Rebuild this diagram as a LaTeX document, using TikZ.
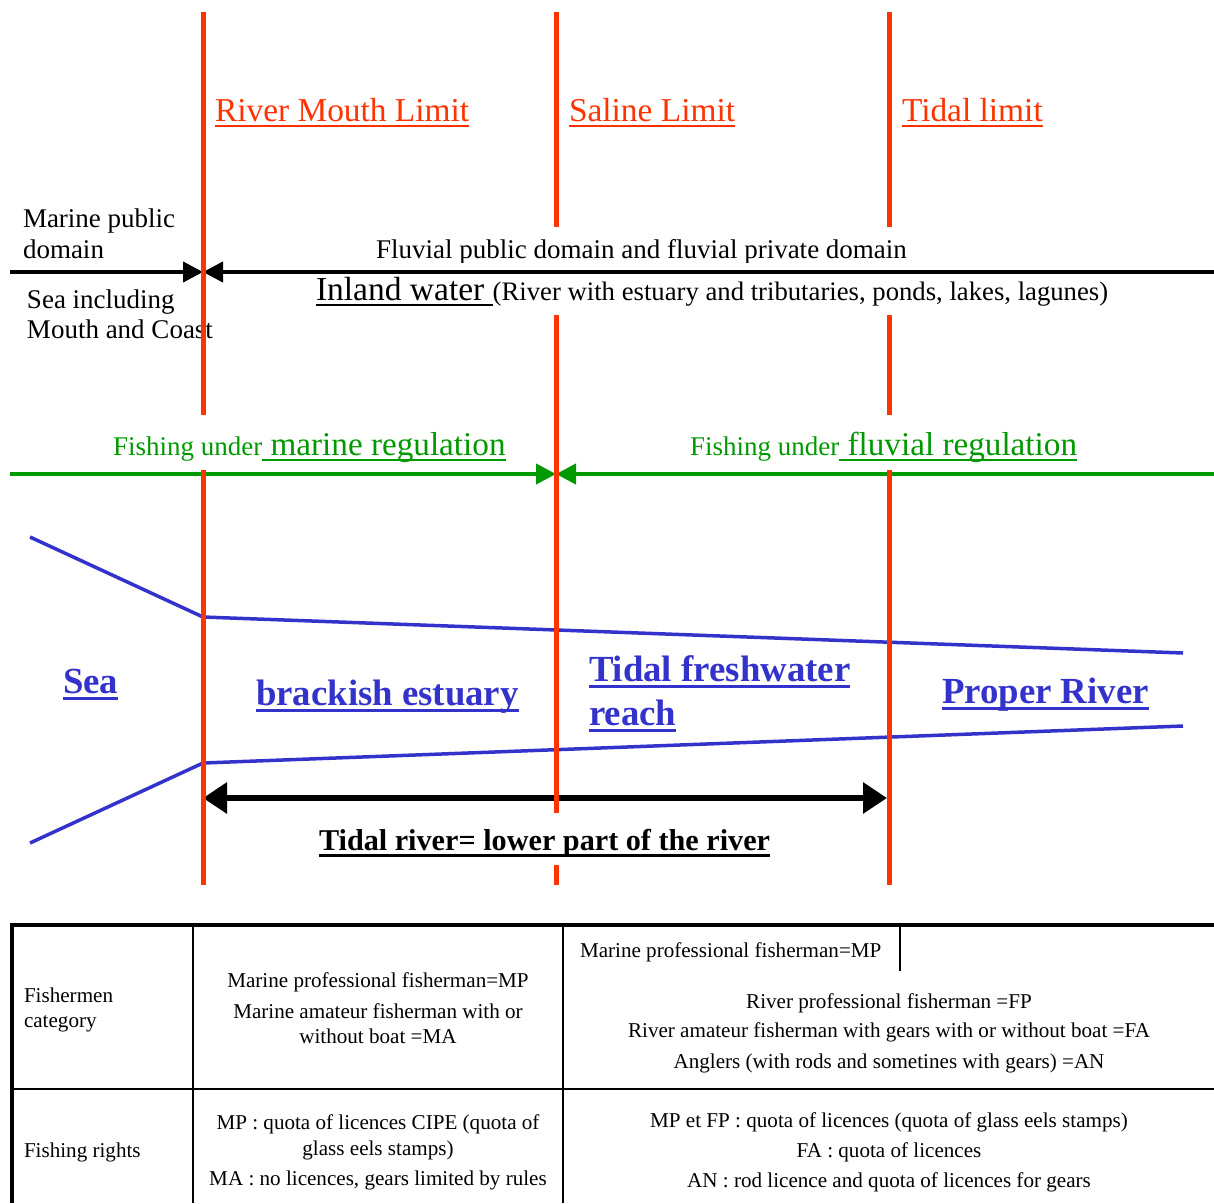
\documentclass[tikz,border=0pt]{standalone}
\usepackage{fontspec}
\setmainfont{Liberation Serif}
\usetikzlibrary{arrows.meta}
\definecolor{redl}{RGB}{255,51,0}
\definecolor{grn}{RGB}{0,153,0}
\definecolor{blu}{RGB}{51,51,204}
\newcommand\fsz[1]{\fontsize{#1}{#1}\selectfont}
\newsavebox\ulbox
\newcommand\ulin[3]{\sbox\ulbox{#3}\rlap{\rule[-#2]{\wd\ulbox}{#1}}\usebox\ulbox}
\begin{document}
\begin{tikzpicture}[x=1pt,y=-1pt,
  every node/.style={inner sep=0pt,outer sep=0pt},
  txt/.style={anchor=base west},
  ctr/.style={anchor=base},
  limitline/.style={draw=redl,line width=5pt},
  domline/.style={draw=black,line width=4pt},
  regline/.style={draw=grn,line width=4pt},
  riverline/.style={draw=blu,line width=3.5pt},
  tip/.style={-{Triangle[length=20pt,width=20pt]}},
  redlab/.style={txt,text=redl,font=\fsz{33.4}},
  bluelab/.style={txt,text=blu,font=\fsz{36.8}\bfseries},
  tabtxt/.style={font=\fsz{21.1}},
  tabthin/.style={draw=black,line width=1.5pt}]
\useasboundingbox (0,0) rectangle (1214,1203);

% river banks
\coordinate (ub0) at (30,537); \coordinate (ub1) at (203,617); \coordinate (ub2) at (1183,653);
\coordinate (lb0) at (30,843); \coordinate (lb1) at (203,763); \coordinate (lb2) at (1183,726);
\draw[riverline] (ub0) -- (ub1) -- (ub2);
\draw[riverline] (lb0) -- (lb1) -- (lb2);

% domain arrows
\coordinate (dL) at (10,272); \coordinate (dM) at (203,272); \coordinate (dR) at (1214,272);
\draw[domline,tip] (dL) -- (dM);
\draw[domline,tip] (dR) -- (dM);

% regulation arrows
\coordinate (gL) at (10,474); \coordinate (gM) at (556,474); \coordinate (gR) at (1214,474);
\draw[regline,tip] (gL) -- (gM);
\draw[regline,tip] (gR) -- (gM);

% tidal river arrow
\coordinate (tA) at (203,798); \coordinate (tB) at (887,798);
\draw[line width=6pt,{Triangle[length=24pt,width=30pt]}-{Triangle[length=24pt,width=30pt]}] (tA) -- (tB);

% limit labels
\node[redlab] (rml) at (215,121) {\ulin{2pt}{6pt}{River Mouth Limit}};
\node[redlab] (sal) at (569,121) {\ulin{2pt}{6pt}{Saline Limit}};
\node[redlab] (tdl) at (902,121) {\ulin{2pt}{6pt}{Tidal limit}};

% domain labels
\node[txt,font=\fsz{27}] (mpd1) at (23,227) {Marine public};
\node[txt,font=\fsz{27}] (mpd2) at (23,258) {domain};
\node[txt,font=\fsz{27}] (sea1) at (27,308) {Sea including};
\node[txt,font=\fsz{27}] (sea2) at (27,338) {Mouth and Coast};
\begin{scope}
  \clip (0,0) rectangle (1214,262);
  \node[txt,font=\fsz{27}] (fluv) at (376,258) {Fluvial public domain and fluvial private domain};
\end{scope}
\node[txt] (inl) at (316,300) {\fsz{33.5}\ulin{2pt}{6pt}{Inland water\ }\fsz{26.7}(River with estuary and tributaries, ponds, lakes, lagunes)};

% regulation labels
\node[txt,text=grn] (mreg) at (113,455) {\fsz{27}Fishing under\fsz{33.2}\ulin{2pt}{6pt}{\ marine regulation}};
\node[txt,text=grn] (freg) at (690,455) {\fsz{27}Fishing under\fsz{33.2}\ulin{2pt}{6pt}{\ fluvial regulation}};

% reach labels
\node[bluelab] (sea) at (63,693) {\ulin{3pt}{7pt}{Sea}};
\node[bluelab] (brk) at (256,705) {\ulin{3pt}{7pt}{brackish estuary}};
\node[bluelab] (tfr1) at (589,681) {\ulin{3pt}{7pt}{Tidal freshwater}};
\node[bluelab] (tfr2) at (589,725) {\ulin{3pt}{7pt}{reach}};
\node[bluelab] (prr) at (942,703) {\ulin{3pt}{7pt}{Proper River}};
\node[txt,font=\fsz{30.2}\bfseries] (trv) at (319,850) {\ulin{3pt}{7pt}{Tidal river= lower part of the river}};

% limit lines (on top)
\draw[limitline] (203,12) -- (203,415);
\draw[limitline] (203,470) -- (203,885);
\draw[limitline] (556,12) -- (556,227);
\draw[limitline] (556,315) -- (556,813);
\draw[limitline] (556,865) -- (556,885);
\draw[limitline] (889,12) -- (889,227);
\draw[limitline] (889,315) -- (889,415);
\draw[limitline] (889,470) -- (889,885);

% table
\draw[line width=4pt] (10,925) -- (1214,925);
\draw[line width=3.5pt] (12,925) -- (12,1203);
\draw[tabthin] (193,925) -- (193,1203);
\draw[tabthin] (563,925) -- (563,1203);
\draw[line width=2.5pt] (10,1089) -- (1214,1089);
\draw[tabthin] (900,925) -- (900,971);

\node[txt,tabtxt] (fc1) at (24,1002) {Fishermen};
\node[txt,tabtxt] (fc2) at (24,1027) {category};
\node[txt,tabtxt] (fr) at (24,1157) {Fishing rights};

\node[ctr,tabtxt] (m1) at (378,987) {Marine professional fisherman=MP};
\node[ctr,tabtxt] (m2) at (378,1018) {Marine amateur fisherman with or};
\node[ctr,tabtxt] (m3) at (378,1043) {without boat =MA};
\node[ctr,tabtxt] (m4) at (378,1129) {MP : quota of licences CIPE (quota of};
\node[ctr,tabtxt] (m5) at (378,1155) {glass eels stamps)};
\node[ctr,tabtxt] (m6) at (378,1185) {MA : no licences, gears limited by rules};

\node[txt,tabtxt] (r0) at (580,957) {Marine professional fisherman=MP};
\node[ctr,tabtxt] (r1) at (889,1008) {River professional fisherman =FP};
\node[ctr,tabtxt] (r2) at (889,1037) {River amateur fisherman with gears with or without boat =FA};
\node[ctr,tabtxt] (r3) at (889,1068) {Anglers (with rods and sometines with gears) =AN};
\node[ctr,tabtxt] (r4) at (889,1127) {MP et FP : quota of licences (quota of glass eels stamps)};
\node[ctr,tabtxt] (r5) at (889,1157) {FA : quota of licences};
\node[ctr,tabtxt] (r6) at (889,1187) {AN : rod licence and quota of licences for gears};
\end{tikzpicture}
\end{document}
